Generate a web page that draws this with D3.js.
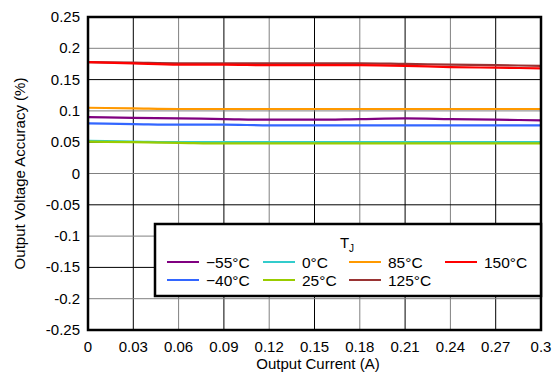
<!DOCTYPE html>
<html><head><meta charset="utf-8">
<script src="https://cdn.jsdelivr.net/npm/d3@7"></script>
<style>body{margin:0;background:#fff}svg{display:block}text{font-family:"Liberation Sans",Arial,sans-serif;fill:#000}</style>
</head><body><svg id="c" width="558" height="374"></svg>
<script>
const current = [0,0.03,0.06,0.09,0.12,0.15,0.18,0.21,0.24,0.27,0.3];
const xTicks = [0,0.03,0.06,0.09,0.12,0.15,0.18,0.21,0.24,0.27,0.3];
const yTicks = [0.25,0.2,0.15,0.1,0.05,0,-0.05,-0.1,-0.15,-0.2,-0.25];
const seriesNames = ["\u221255\u00B0C","\u221240\u00B0C","0\u00B0C","25\u00B0C","85\u00B0C","125\u00B0C","150\u00B0C"];
const seriesColors = ["#800080","#3366ff","#33cccc","#99cc00","#ff9900","#993333","#ff0000"];
const vM55 = [0.090,0.089,0.088,0.087,0.086,0.086,0.087,0.088,0.087,0.086,0.085];
const vM40 = [0.080,0.079,0.078,0.078,0.077,0.077,0.077,0.077,0.077,0.077,0.077];
const v0   = [0.052,0.051,0.050,0.050,0.050,0.050,0.050,0.050,0.050,0.050,0.050];
const v25  = [0.051,0.050,0.049,0.048,0.048,0.048,0.048,0.048,0.048,0.048,0.048];
const v85  = [0.105,0.104,0.103,0.103,0.103,0.103,0.103,0.103,0.103,0.103,0.103];
const v125 = [0.178,0.177,0.176,0.176,0.176,0.176,0.176,0.175,0.174,0.173,0.172];
const v150 = [0.178,0.176,0.174,0.174,0.173,0.173,0.173,0.172,0.170,0.169,0.168];
const seriesValues = [vM55,vM40,v0,v25,v85,v125,v150];

const svg = d3.select("#c");
const L=88,R=541,T=17,B=330;
const x = d3.scaleLinear().domain([0,0.3]).range([L,R]);
const y = d3.scaleLinear().domain([-0.25,0.25]).range([B,T]);

// grid
xTicks.forEach((t,i)=>{ if(i===0||i===xTicks.length-1) return;
  svg.append("line").attr("x1",x(t)).attr("x2",x(t)).attr("y1",T).attr("y2",B)
    .attr("stroke", i%2===1?"#000":"#808080").attr("stroke-width",1);});
yTicks.forEach((t,i)=>{ if(i===0||i===yTicks.length-1) return;
  svg.append("line").attr("x1",L).attr("x2",R).attr("y1",y(t)).attr("y2",y(t))
    .attr("stroke", i%2===1?"#808080":"#000").attr("stroke-width",1);});

// lines
const line = d3.line().x((d,i)=>x(current[i])).y(d=>y(d)).curve(d3.curveMonotoneX);
seriesValues.forEach((vals,k)=>{
  svg.append("path").datum(vals).attr("d",line).attr("fill","none")
    .attr("stroke",seriesColors[k]).attr("stroke-width",2.2);
});

// frame
svg.append("rect").attr("x",L).attr("y",T).attr("width",R-L).attr("height",B-T)
  .attr("fill","none").attr("stroke","#000").attr("stroke-width",2.5);

// axes labels
const fmt = d=> d===0?"0":String(d);
svg.append("g").selectAll("text").data(yTicks).join("text")
  .attr("x",80).attr("y",d=>y(d)+5).attr("text-anchor","end").attr("font-size",15).text(fmt);
svg.append("g").selectAll("text").data(xTicks).join("text")
  .attr("x",d=>x(d)).attr("y",352).attr("text-anchor","middle").attr("font-size",15).text(fmt);
svg.append("text").attr("x",318).attr("y",369).attr("text-anchor","middle").attr("font-size",15).text("Output Current (A)");
svg.append("text").attr("transform",`translate(25,${(T+B)/2}) rotate(-90)`).attr("text-anchor","middle").attr("font-size",15).text("Output Voltage Accuracy (%)");

// legend
const lg = svg.append("g");
lg.append("rect").attr("x",155).attr("y",224).attr("width",386).attr("height",72)
  .attr("fill","#fff").attr("stroke","#000").attr("stroke-width",2.5);
const tj = lg.append("text").attr("x",347).attr("y",248).attr("text-anchor","middle").attr("font-size",15);
tj.append("tspan").text("T");
tj.append("tspan").attr("font-size",10).attr("dy",4).text("J");
const colX = [167,263,349,445];
const rowY = [262,280];
const order = [[0,0,0],[1,0,1],[2,1,0],[3,1,1],[4,2,0],[5,2,1],[6,3,0]];
order.forEach(([k,c,r])=>{
  lg.append("line").attr("x1",colX[c]).attr("x2",colX[c]+32).attr("y1",rowY[r]).attr("y2",rowY[r])
    .attr("stroke",seriesColors[k]).attr("stroke-width",2);
  lg.append("text").attr("x",colX[c]+39).attr("y",rowY[r]+5.5).attr("font-size",15.5).text(seriesNames[k]);
});
</script></body></html>
